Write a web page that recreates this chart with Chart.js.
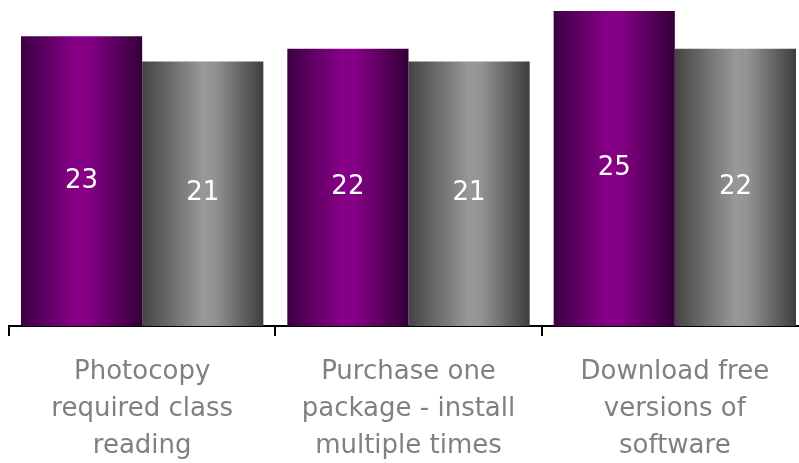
<!DOCTYPE html>
<html>
<head>
<meta charset="utf-8">
<script src="https://cdn.jsdelivr.net/npm/chart.js@4/dist/chart.umd.min.js"></script>
<style>
  html, body { margin: 0; padding: 0; background: #fff; overflow: hidden; }
  #wrap { width: 808px; height: 463px; }
</style>
</head>
<body>
<div id="wrap"><canvas id="barChart"></canvas></div>
<script>
const categories = [
  ['Photocopy', 'required class', 'reading'],
  ['Purchase one', 'package - install', 'multiple times'],
  ['Download free', 'versions of', 'software']
];
const seriesA = [23, 22, 25];
const seriesB = [21, 21, 22];

const purpleStops = [[0, '#3c0044'], [0.45, '#870087'], [0.55, '#850085'], [1, '#340038']];
const grayStops = [[0, '#444444'], [0.5, '#989898'], [0.6, '#939393'], [1, '#3e3e3e']];

const catPct = 0.91;

function barGradient(stops, side) {
  return function (ctx) {
    const chart = ctx.chart;
    const xs = chart.scales.x;
    if (!xs || !chart.chartArea || ctx.dataIndex === undefined) return stops[1][1];
    const center = xs.getPixelForValue(ctx.dataIndex);
    const barW = (xs.width / categories.length) * catPct / 2;
    const left = side === 0 ? center - barW : center;
    const g = chart.ctx.createLinearGradient(left, 0, left + barW, 0);
    stops.forEach(s => g.addColorStop(s[0], s[1]));
    return g;
  };
}

const valueLabels = {
  id: 'valueLabels',
  afterDatasetsDraw(chart) {
    const c = chart.ctx;
    c.save();
    c.fillStyle = '#ffffff';
    c.font = '26px "DejaVu Sans"';
    c.textAlign = 'center';
    c.textBaseline = 'middle';
    chart.data.datasets.forEach((ds, i) => {
      chart.getDatasetMeta(i).data.forEach((bar, j) => {
        c.fillText(ds.data[j], bar.x, (bar.y + bar.base) / 2);
      });
    });
    c.restore();
  }
};

const ctxBar = document.getElementById('barChart').getContext('2d');
new Chart(ctxBar, {
  type: 'bar',
  data: {
    labels: categories,
    datasets: [
      { label: 'A', data: seriesA, backgroundColor: barGradient(purpleStops, 0) },
      { label: 'B', data: seriesB, backgroundColor: barGradient(grayStops, 1) }
    ]
  },
  options: {
    responsive: true,
    maintainAspectRatio: false,
    animation: false,
    events: [],
    layout: { padding: { top: 11, left: 9, right: 0, bottom: -20 } },
    datasets: { bar: { categoryPercentage: catPct, barPercentage: 1.0 } },
    plugins: { legend: { display: false }, tooltip: { enabled: false } },
    scales: {
      x: {
        offset: true,
        border: { display: true, color: '#000', width: 2 },
        grid: { offset: true, drawOnChartArea: false, drawTicks: true, tickLength: 10, color: '#000', lineWidth: 2 },
        ticks: {
          color: '#808080',
          padding: 18,
          maxRotation: 0,
          autoSkip: false,
          font: { family: '"DejaVu Sans"', size: 26, lineHeight: '37px' }
        }
      },
      y: { display: false, min: 0, max: 25 }
    }
  },
  plugins: [valueLabels]
});
</script>
</body>
</html>
